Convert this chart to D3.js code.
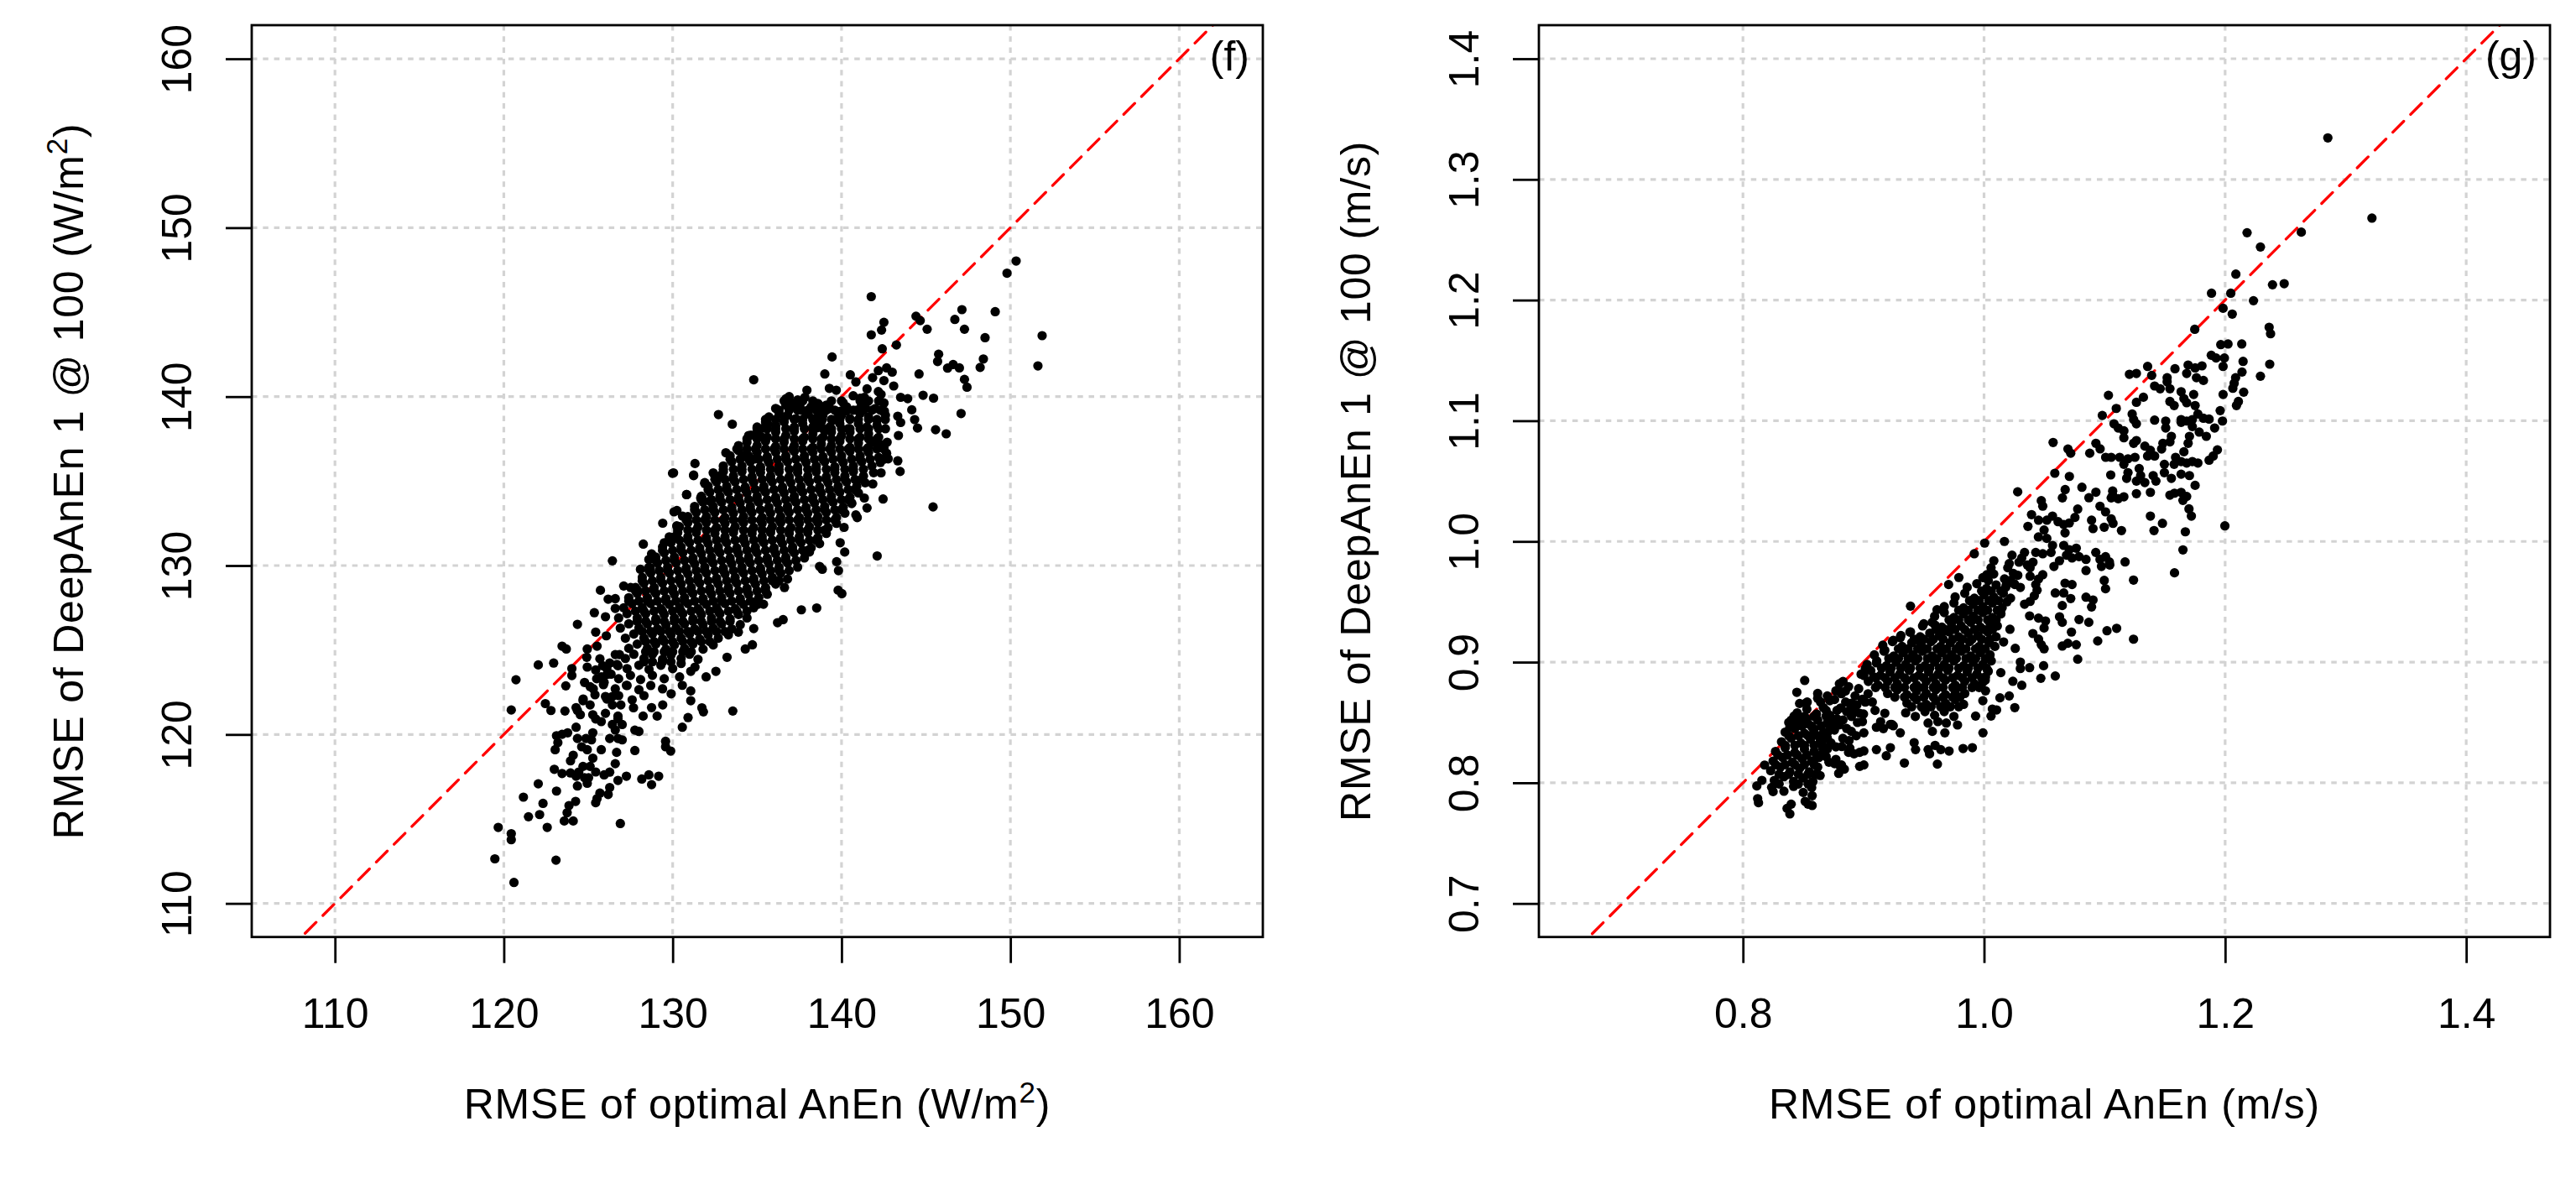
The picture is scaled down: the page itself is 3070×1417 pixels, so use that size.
<!DOCTYPE html>
<html>
<head>
<meta charset="utf-8">
<script src="https://cdn.jsdelivr.net/npm/d3@7"></script>
<style>
  body { margin: 0; background: #fff; }
  svg { display: block; }
  text { font-family: "Liberation Sans", Arial, Helvetica, sans-serif; fill: #000; }
</style>
</head>
<body>
<svg id="chart" width="3070" height="1417"></svg>
<script>
// Axis limits and ticks
const solarXLim = [105.07, 164.95];
const solarYLim = [108.01, 161.99];
const solarTicks = [110, 120, 130, 140, 150, 160];
const windXLim = [0.6307, 1.4695];
const windYLim = [0.6722, 1.4278];
const windXTicks = [0.8, 1.0, 1.2, 1.4];
const windYTicks = [0.7, 0.8, 0.9, 1.0, 1.1, 1.2, 1.3, 1.4];

const solarXTitle = "RMSE of optimal AnEn (W/m";
const solarYTitle = "RMSE of DeepAnEn 1 @ 100 (W/m";
const windXTitle = "RMSE of optimal AnEn (m/s)";
const windYTitle = "RMSE of DeepAnEn 1 @ 100 (m/s)";

// Panel (f): scattered points [optimal AnEn, DeepAnEn]
const solarScatter = [
  [150.34,148.03],[149.80,147.31],[149.10,145.03],[151.88,143.61],[151.63,141.82],[147.13,145.15],[146.71,144.57],[147.28,143.99],
  [148.50,143.49],[148.40,142.23],[148.21,141.73],[145.75,142.51],[145.69,142.08],[146.28,141.69],[146.61,141.90],[146.98,141.70],
  [147.28,141.02],[147.43,140.56],[147.08,139.00],[145.45,139.91],[144.83,140.08],[145.57,138.04],[146.20,137.80],[145.42,133.47],
  [144.59,141.34],[145.07,143.99],[144.41,144.76],[144.66,144.50],[143.25,143.06],[142.41,142.83],[142.51,144.40],[142.37,143.94],
  [141.76,143.66],[141.76,145.92],[139.44,142.35],[139.01,141.34],[134.80,141.00],[132.71,138.94],[133.53,138.37],[142.11,130.57],
  [139.92,131.35],[140.19,130.80],[139.71,130.23],[139.82,129.70],[139.80,128.54],[140.02,128.34],[137.62,127.38],[138.53,127.49],
  [136.21,126.62],[136.54,126.80],[134.80,126.27],[136.62,128.70],[138.70,129.95],[138.86,129.78],[142.46,133.94],[141.51,133.41],
  [140.93,132.84],[143.33,136.20],[143.47,135.57],[143.37,137.70],[143.33,138.84],[143.50,138.47],[144.16,139.22],[144.33,138.64],
  [144.50,138.14],[143.50,139.96],[143.92,139.88],[142.51,139.63],[142.54,139.14],[142.59,138.64],[142.67,136.65],[142.51,136.30],
  [141.84,137.30],[142.34,137.15],[140.60,133.67],[140.15,132.26],[140.52,141.29],[140.85,140.87],[142.18,141.54],[142.67,141.70],
  [143.00,141.45],[141.84,141.12],[142.51,140.95],[141.51,140.46],[143.09,140.63],
  [125.72,128.54],[126.18,128.01],[126.60,128.04],[126.60,127.46],[125.36,127.21],[126.02,126.97],[124.36,126.52],[125.44,126.06],
  [126.07,125.84],[123.45,125.23],[123.70,125.06],[124.94,125.06],[125.52,125.23],[124.91,124.57],[125.69,124.48],[125.85,124.07],
  [126.27,124.23],[126.60,124.73],[126.85,124.73],[126.76,124.07],[126.35,123.57],[122.04,124.12],[122.95,124.23],[120.72,123.24],
  [124.03,123.90],[124.03,123.49],[123.67,122.88],[124.78,123.08],[125.11,122.83],[124.94,123.99],[125.44,123.82],[125.77,123.41],
  [125.94,123.08],[126.02,122.25],[126.43,122.25],[126.43,121.75],[126.93,121.75],[126.76,121.09],[126.02,121.25],[127.26,122.91],
  [122.46,121.83],[122.79,121.42],[120.44,121.45],[123.62,121.39],[124.36,121.42],[124.53,121.17],[124.28,121.59],[124.69,122.00],
  [125.11,121.75],[125.27,121.17],[125.44,120.92],[125.77,120.76],[127.68,121.58],[128.25,121.09],[129.08,121.09],[128.75,121.59],
  [129.41,121.75],[129.91,122.41],
  [130.41,123.41],[131.07,123.74],[131.32,123.99],[130.57,122.91],[131.07,122.58],[132.56,123.74],[131.98,123.41],[131.73,121.58],
  [131.82,121.34],[131.07,122.00],[130.91,121.00],[130.57,120.43],[133.56,121.39],[133.22,124.57],[134.30,125.06],[134.72,125.31],
  [133.89,126.06],[135.05,127.71],[135.38,127.71],
  [130.08,133.18],[130.82,134.20],[129.41,132.51],[130.24,132.35],[129.50,131.35],[130.08,131.69],[128.26,131.27],[126.43,130.28],
  [128.09,129.78],[128.59,130.36],[128.75,130.69],[128.67,129.86],[129.99,135.46],[131.24,135.36],[131.90,134.91],[131.73,134.00],
  [132.23,133.84],[127.10,128.79],[127.51,128.70],[127.92,128.54],
  [134.64,137.72],[135.38,138.14],[135.63,138.39],[135.22,137.64],[133.15,136.68],[134.14,136.52],[134.89,136.32],[131.32,136.04],
  [131.24,135.32],[131.90,134.86],[130.83,134.20],[131.66,134.00],[132.24,133.78],[132.40,135.49],[132.82,135.32],[130.05,135.49],
  [130.25,133.26],[130.58,132.93],
  [140.85,133.00],[141.35,134.00],[141.85,134.83],[142.34,135.49],[142.76,136.32],[142.51,136.98],[142.01,137.31],
  [139.28,140.49],[139.69,140.38],[137.95,140.38],[137.83,139.96],[136.71,139.88],[137.04,139.63],[137.54,139.38],[140.69,140.05],
  [140.10,139.63],[139.94,139.14],[140.27,139.14],[138.70,139.47],[138.36,138.56],[138.03,138.97],[138.86,138.64],[138.53,138.15],
  [139.03,137.98],[142.18,140.30],[142.34,140.13],[141.35,139.96],[141.18,139.47],
  [123.04,119.10],[123.20,119.52],[123.12,119.93],[123.45,120.01],[123.78,120.10],[124.28,120.43],[124.36,119.76],[124.61,119.27],
  [124.94,119.10],[124.86,119.76],[125.27,120.10],[125.19,119.68],[125.77,119.10],[126.27,119.76],[126.76,119.76],[127.01,119.68],
  [126.60,120.26],[127.01,120.59],[126.76,120.92],[126.43,120.59],[123.95,118.44],[124.11,118.77],[124.44,117.78],[124.69,118.11],
  [125.11,118.11],[125.27,118.60],[125.44,117.78],[125.02,117.44],[124.78,117.44],[124.36,116.95],[124.94,117.11],[124.28,117.53],
  [125.94,117.61],[126.27,117.77],[126.60,118.27],[126.76,117.28],[127.26,117.53],[126.68,118.94],[122.99,117.94],[123.45,117.69],
  [123.95,117.72],[128.17,117.36],[128.59,117.61],[128.75,117.03],[129.17,117.53],[127.76,119.05],[127.76,120.26],[128.00,120.18],
  [129.58,119.60],[129.58,119.27],[129.88,119.02],[125.44,115.96],[125.52,116.20],[125.69,116.53],[126.18,116.45],[126.27,116.86],
  [123.58,114.88],[124.11,114.88],[123.75,115.37],[123.86,115.79],[124.25,116.04],[126.90,114.73],[123.12,116.65],[122.04,117.08],
  [121.16,116.29],[122.32,115.92],[122.12,115.26],[121.46,115.13],[122.57,114.50],[119.67,114.50],[120.44,114.13],[120.44,113.77],
  [123.09,112.56],[119.47,112.64],[120.60,111.24]
];

// Panel (f): dense core of the cloud
const solarCore = [
  [136.9,140.0],[137.4,139.8],[138.6,139.6],[139.1,139.5],[141.1,139.9],
  [136.1,139.3],[136.7,139.5],[137.2,139.4],[137.6,139.2],[138.2,139.4],[138.7,139.1],[139.3,139.3],[139.8,139.0],[140.3,139.4],[140.9,139.2],[141.4,139.5],[142.0,139.3],[142.5,139.6],[142.5,139.1],
  [135.7,138.8],[136.3,139.0],[136.8,138.9],[137.3,138.7],[137.9,139.0],[138.4,138.7],[138.9,138.9],[139.5,138.6],[140.0,138.9],[140.5,138.7],[141.1,139.0],[141.6,138.8],[142.1,138.6],[142.6,138.9],
  [135.0,138.2],[135.5,138.5],[136.1,138.3],[136.6,138.5],[137.2,138.2],[137.7,138.4],[138.3,138.2],[138.8,138.5],[139.3,138.2],[139.9,138.4],[140.4,138.1],[141.0,138.4],[141.5,138.2],[142.1,138.3],[142.6,138.1],
  [134.5,137.7],[135.0,137.9],[135.6,137.6],[136.1,137.9],[136.7,137.7],[137.2,137.95],[137.8,137.6],[138.3,137.8],[138.9,137.6],[139.4,137.9],[140.0,137.7],[140.5,137.9],[141.1,137.6],[141.6,137.8],[142.2,137.6],
  [133.9,137.1],[134.4,137.3],[135.0,137.1],[135.5,137.35],[136.1,137.05],[136.6,137.3],[137.2,137.1],[137.7,137.35],[138.3,137.0],[138.8,137.2],[139.4,137.1],[139.9,137.35],[140.5,137.0],[141.0,137.25],[141.6,137.0],[142.1,137.2],[142.7,137.3],
  [133.4,136.5],[133.9,136.8],[134.5,136.5],[135.0,136.7],[135.6,136.45],[136.1,136.7],[136.7,136.5],[137.2,136.75],[137.8,136.5],[138.3,136.7],[138.9,136.45],[139.4,136.7],[140.0,136.5],[140.5,136.75],[141.1,136.5],[141.6,136.7],[142.2,136.4],[142.5,136.9],
  [133.0,135.9],[133.5,136.15],[134.1,135.9],[134.6,136.15],[135.2,135.85],[135.7,136.1],[136.3,135.9],[136.8,136.15],[137.4,135.85],[137.9,136.1],[138.5,135.9],[139.0,136.15],[139.6,135.85],[140.1,136.1],[140.7,135.9],[141.2,136.15],[141.8,135.9],[142.3,136.1],
  [132.5,135.3],[133.0,135.55],[133.6,135.3],[134.1,135.55],[134.7,135.25],[135.2,135.5],[135.8,135.3],[136.3,135.55],[136.9,135.25],[137.4,135.5],[138.0,135.3],[138.5,135.55],[139.1,135.25],[139.6,135.5],[140.2,135.3],[140.7,135.55],[141.3,135.3],[141.9,135.5],
  [132.1,134.7],[132.6,134.95],[133.2,134.7],[133.7,134.95],[134.3,134.65],[134.8,134.9],[135.4,134.7],[135.9,134.95],[136.5,134.65],[137.0,134.9],[137.6,134.7],[138.1,134.95],[138.7,134.65],[139.2,134.9],[139.8,134.7],[140.3,134.95],[140.9,134.7],[141.4,134.9],
  [131.7,134.1],[132.2,134.35],[132.8,134.1],[133.3,134.35],[133.9,134.05],[134.4,134.3],[135.0,134.1],[135.5,134.35],[136.1,134.05],[136.6,134.3],[137.2,134.1],[137.7,134.35],[138.3,134.05],[138.8,134.3],[139.4,134.1],[139.9,134.35],[140.5,134.05],[141.0,134.3],
  [131.3,133.5],[131.8,133.75],[132.4,133.5],[132.9,133.75],[133.5,133.45],[134.0,133.7],[134.6,133.5],[135.1,133.75],[135.7,133.45],[136.2,133.7],[136.8,133.5],[137.3,133.75],[137.9,133.45],[138.4,133.7],[139.0,133.5],[139.5,133.75],[140.1,133.45],[140.6,133.7],
  [130.9,132.9],[131.4,133.15],[132.0,132.9],[132.5,133.15],[133.1,132.85],[133.6,133.1],[134.2,132.9],[134.7,133.15],[135.3,132.85],[135.8,133.1],[136.4,132.9],[136.9,133.15],[137.5,132.85],[138.0,133.1],[138.6,132.9],[139.1,133.15],[139.7,132.85],[140.2,133.1],
  [130.4,132.3],[130.9,132.55],[131.5,132.3],[132.0,132.55],[132.6,132.25],[133.1,132.5],[133.7,132.3],[134.2,132.55],[134.8,132.25],[135.3,132.5],[135.9,132.3],[136.4,132.55],[137.0,132.25],[137.5,132.5],[138.1,132.3],[138.6,132.55],[139.2,132.25],[139.7,132.5],
  [129.8,131.7],[130.3,131.95],[130.9,131.7],[131.4,131.95],[132.0,131.65],[132.5,131.9],[133.1,131.7],[133.6,131.95],[134.2,131.65],[134.7,131.9],[135.3,131.7],[135.8,131.95],[136.4,131.65],[136.9,131.9],[137.5,131.7],[138.0,131.95],[138.6,131.65],[139.1,131.9],
  [129.4,131.1],[129.9,131.35],[130.5,131.1],[131.0,131.35],[131.6,131.05],[132.1,131.3],[132.7,131.1],[133.2,131.35],[133.8,131.05],[134.3,131.3],[134.9,131.1],[135.4,131.35],[136.0,131.05],[136.5,131.3],[137.1,131.1],[137.6,131.35],[138.2,131.05],[138.7,131.3],
  [129.0,130.5],[129.5,130.75],[130.1,130.5],[130.6,130.75],[131.2,130.45],[131.7,130.7],[132.3,130.5],[132.8,130.75],[133.4,130.45],[133.9,130.7],[134.5,130.5],[135.0,130.75],[135.6,130.45],[136.1,130.7],[136.7,130.5],[137.2,130.75],[137.8,130.45],[138.1,130.8],
  [128.6,129.9],[129.1,130.15],[129.7,129.9],[130.2,130.15],[130.8,129.85],[131.3,130.1],[131.9,129.9],[132.4,130.15],[133.0,129.85],[133.5,130.1],[134.1,129.9],[134.6,130.15],[135.2,129.85],[135.7,130.1],[136.3,129.9],[136.8,130.15],[137.4,129.9],
  [128.2,129.3],[128.7,129.55],[129.3,129.3],[129.8,129.55],[130.4,129.25],[130.9,129.5],[131.5,129.3],[132.0,129.55],[132.6,129.25],[133.1,129.5],[133.7,129.3],[134.2,129.55],[134.8,129.25],[135.3,129.5],[135.9,129.3],[136.4,129.55],[136.8,129.2],
  [127.8,128.7],[128.3,128.95],[128.9,128.7],[129.4,128.95],[130.0,128.65],[130.5,128.9],[131.1,128.7],[131.6,128.95],[132.2,128.65],[132.7,128.9],[133.3,128.7],[133.8,128.95],[134.4,128.65],[134.9,128.9],[135.5,128.7],[136.1,128.9],
  [127.4,128.1],[127.9,128.35],[128.5,128.1],[129.0,128.35],[129.6,128.05],[130.1,128.3],[130.7,128.1],[131.2,128.35],[131.8,128.05],[132.3,128.3],[132.9,128.1],[133.4,128.35],[134.0,128.05],[134.5,128.3],[135.1,128.1],[135.6,128.3],
  [127.1,127.5],[127.6,127.75],[128.2,127.5],[128.7,127.75],[129.3,127.45],[129.8,127.7],[130.4,127.5],[130.9,127.75],[131.5,127.45],[132.0,127.7],[132.6,127.5],[133.1,127.75],[133.7,127.45],[134.2,127.7],[134.8,127.5],
  [126.8,126.9],[127.3,127.15],[127.9,126.9],[128.4,127.15],[129.0,126.85],[129.5,127.1],[130.1,126.9],[130.6,127.15],[131.2,126.85],[131.7,127.1],[132.3,126.9],[132.8,127.15],[133.4,126.85],[133.9,127.1],[134.4,126.9],
  [126.9,126.3],[127.4,126.55],[128.0,126.3],[128.5,126.55],[129.1,126.25],[129.6,126.5],[130.2,126.3],[130.7,126.55],[131.3,126.25],[131.8,126.5],[132.4,126.3],[132.9,126.55],[133.5,126.25],[134.0,126.5],
  [127.2,125.7],[127.7,125.95],[128.3,125.7],[128.8,125.95],[129.4,125.65],[129.9,125.9],[130.5,125.7],[131.0,125.95],[131.6,125.65],[132.1,125.9],[132.7,125.7],[133.3,125.9],
  [127.4,125.1],[127.9,125.35],[128.5,125.1],[129.0,125.35],[129.6,125.05],[130.1,125.3],[130.7,125.1],[131.2,125.35],[131.8,125.05],[132.4,125.3],
  [127.2,124.5],[127.7,124.75],[128.3,124.5],[128.8,124.75],[129.4,124.45],[129.9,124.7],[130.5,124.5],[131.0,124.75],[131.5,124.45],
  [126.1,123.9],[126.7,124.15],[127.3,123.9],[128.0,124.1],[128.6,123.85],[129.3,124.1],[130.0,123.9],[130.5,124.2],
  [125.5,123.3],[126.1,123.55],[126.8,123.3],[127.5,123.5],[128.1,123.25],[128.8,123.5],[129.5,123.3],
  [125.3,122.7],[125.9,122.95],[126.6,122.7],[127.3,122.9],[128.0,122.65],[128.7,122.9],[129.4,122.7],
  [124.7,122.1],[125.4,122.35],[126.1,122.1],[126.8,122.3],[127.6,122.05],[128.3,122.3]
];

// Panel (f): points between the core rows, as [DeepAnEn, [optimal AnEn ...]]
const solarFill = [
  [139.75,[136.6,137.7,138.3,139.4,140.0,141.1,141.6,142.2]],
  [139.2,[136.3,136.9,137.4,138.0,138.5,139.1,139.6,140.2,140.7,141.3,141.8,142.3]],
  [138.65,[135.5,136.1,136.6,137.2,137.7,138.3,138.8,139.4,139.9,140.5,141.0,141.6,142.1]],
  [138.1,[135.0,135.6,136.1,136.7,137.2,137.8,138.3,138.9,139.4,140.0,140.5,141.1,141.6,142.2]],
  [137.5,[134.4,135.0,135.5,136.1,136.6,137.2,137.7,138.3,138.8,139.4,139.9,140.5,141.0,141.6,142.1]],
  [136.9,[133.8,134.4,134.9,135.5,136.0,136.6,137.1,137.7,138.2,138.8,139.3,139.9,140.4,141.0,141.5,142.1]],
  [136.3,[133.4,134.0,134.5,135.1,135.6,136.2,136.7,137.3,137.8,138.4,138.9,139.5,140.0,140.6,141.1,141.7]],
  [135.7,[133.0,133.6,134.1,134.7,135.2,135.8,136.3,136.9,137.4,138.0,138.5,139.1,139.6,140.2,140.7,141.3]],
  [135.1,[132.5,133.1,133.6,134.2,134.7,135.3,135.8,136.4,136.9,137.5,138.0,138.6,139.1,139.7,140.2,140.8,141.2]],
  [134.5,[132.1,132.7,133.2,133.8,134.3,134.9,135.4,136.0,136.5,137.1,137.6,138.2,138.7,139.3,139.8,140.4,140.8]],
  [133.9,[131.7,132.3,132.8,133.4,133.9,134.5,135.0,135.6,136.1,136.7,137.2,137.8,138.3,138.9,139.4,140.0,140.4]],
  [133.3,[131.3,131.9,132.4,133.0,133.5,134.1,134.6,135.2,135.7,136.3,136.8,137.4,137.9,138.5,139.0,139.6,140.0]],
  [132.7,[130.8,131.4,131.9,132.5,133.0,133.6,134.1,134.7,135.2,135.8,136.3,136.9,137.4,138.0,138.5,139.1,139.6]],
  [132.1,[130.3,130.9,131.4,132.0,132.5,133.1,133.6,134.2,134.7,135.3,135.8,136.4,136.9,137.5,138.0,138.6,139.0]],
  [131.5,[129.8,130.4,130.9,131.5,132.0,132.6,133.1,133.7,134.2,134.8,135.3,135.9,136.4,137.0,137.5,138.1,138.5]],
  [130.9,[129.4,130.0,130.5,131.1,131.6,132.2,132.7,133.3,133.8,134.4,134.9,135.5,136.0,136.6,137.1,137.7,138.0]],
  [130.3,[129.0,129.6,130.1,130.7,131.2,131.8,132.3,132.9,133.4,134.0,134.5,135.1,135.6,136.2,136.7,137.3]],
  [129.7,[128.6,129.2,129.7,130.3,130.8,131.4,131.9,132.5,133.0,133.6,134.1,134.7,135.2,135.8,136.3,136.9]],
  [129.1,[128.2,128.8,129.3,129.9,130.4,131.0,131.5,132.1,132.6,133.2,133.7,134.3,134.8,135.4,135.9,136.3]],
  [128.5,[127.8,128.4,128.9,129.5,130.0,130.6,131.1,131.7,132.2,132.8,133.3,133.9,134.4,135.0,135.5]],
  [127.9,[127.4,128.0,128.5,129.1,129.6,130.2,130.7,131.3,131.8,132.4,132.9,133.5,134.0,134.6,135.0]],
  [127.3,[127.8,128.3,128.9,129.4,130.0,130.5,131.1,131.6,132.2,132.7,133.3,133.8,134.4]],
  [126.7,[127.9,128.4,129.0,129.5,130.1,130.6,131.2,131.7,132.3,132.8,133.4]],
  [126.1,[128.2,128.7,129.3,129.8,130.4,130.9,131.5,132.0,132.6,133.1]],
  [125.5,[128.4,128.9,129.5,130.0,130.6,131.1,131.7,132.2]],
  [124.9,[128.4,128.9,129.5,130.0,130.6,131.1]],
  [124.3,[128.3,128.8,129.4,129.9]]
];

// Panel (g): scattered points
const windScatter = [
  [1.2852,1.3344],[1.3218,1.2679],[1.2632,1.2563],[1.2182,1.2558],[1.2293,1.2440],[1.2089,1.2215],[1.2393,1.2127],[1.2490,1.2136],
  [1.1887,1.2057],[1.2047,1.2057],[1.2235,1.1995],[1.1983,1.1932],[1.2059,1.1884],[1.1748,1.1758],[1.2365,1.1775],[1.2377,1.1721],
  [1.1964,1.1631],[1.2024,1.1636],[1.2138,1.1636],[1.1885,1.1543],[1.1925,1.1520],[1.1994,1.1520],[1.1983,1.1450],[1.2149,1.1492],
  [1.2370,1.1469],[1.2140,1.1404],[1.2087,1.1357],[1.2075,1.1311],[1.2064,1.1269],[1.2293,1.1369],[1.2154,1.1237],[1.2110,1.1160],
  [1.2094,1.1126],[1.1983,1.1218],[1.1959,1.1084],[1.1978,1.0998],[1.1913,1.0940],[1.1844,1.0871],[1.1936,1.0759],[1.1901,1.0708],
  [1.1867,1.0673],
  [1.1774,1.1056],[1.1820,1.1021],[1.1867,1.1014],[1.1728,1.1010],[1.1681,1.0998],[1.1635,1.0987],[1.1728,1.0952],[1.1785,1.0906],
  [1.1704,1.0871],[1.1693,1.0813],[1.1658,1.0743],[1.1635,1.1010],[1.1751,1.1126],[1.1739,1.1218],[1.1681,1.1149],[1.1635,1.1241],
  [1.1658,1.1184],[1.1577,1.1126],[1.1542,1.1160],[1.1820,1.1334],[1.1762,1.1357],[1.1693,1.1462],[1.1681,1.1392],[1.1808,1.1455],
  [1.1751,1.1438],[1.1584,1.1431],[1.1519,1.1357],[1.1519,1.1323],[1.1415,1.1288],[1.1461,1.1265],[1.1542,1.1265],
  [1.1357,1.1450],[1.1391,1.1376],[1.1206,1.1385],[1.1264,1.1392],[1.1032,1.1211],[1.1097,1.1102],[1.0981,1.1044],[1.1264,1.1153],
  [1.1322,1.1195],[1.1229,1.1056],[1.1241,1.1010],[1.1264,1.0975],[1.1415,1.1005],[1.1507,1.0998],[1.1507,1.0940],[1.1554,1.0871],
  [1.1542,1.0825],[1.1484,1.0813],[1.1473,1.0766],[1.1078,1.0975],[1.1113,1.0940],[1.1160,1.0917],[1.1160,1.0859],
  [1.1241,1.0813],[1.1264,1.0836],[1.1334,1.0790],[1.1380,1.0755],[1.1415,1.0708],[1.1357,1.0708],
  [1.0573,1.0820],[1.0696,1.0766],[1.0719,1.0731],[1.0877,1.0731],[1.0928,1.0813],[1.0963,1.0767],
  [1.1009,1.0697],[1.1055,1.0697],[1.1125,1.0697],[1.1160,1.0639],[1.1194,1.0685],[1.1252,1.0697],
  [1.0587,1.0565],[1.0708,1.0539],[1.1051,1.0551],
  [1.1194,1.0570],[1.1287,1.0604],[1.1299,1.0546],[1.1183,1.0523],[1.1264,1.0500],[1.1334,1.0488],[1.1403,1.0546],[1.1426,1.0500],
  [1.1496,1.0639],[1.1496,1.0570],[1.1554,1.0523],[1.1589,1.0697],[1.1577,1.0639],[1.1635,1.0662],[1.1681,1.0650],[1.1728,1.0662],
  [1.1774,1.0650],[1.1635,1.0557],[1.1704,1.0546],[1.1751,1.0465],
  [1.0812,1.0449],[1.0673,1.0430],[1.0650,1.0361],[1.0279,1.0411],[1.0870,1.0362],[1.0928,1.0408],[1.1067,1.0418],[1.1067,1.0383],
  [1.1113,1.0354],[1.1264,1.0396],[1.1380,1.0407],[1.1542,1.0384],[1.1635,1.0407],[1.1681,1.0373],
  [1.0475,1.0338],[1.0487,1.0292],[1.0777,1.0268],[1.0754,1.0199],[1.0962,1.0292],[1.1008,1.0245],[1.1055,1.0361],[1.1055,1.0187],
  [1.0394,1.0222],[1.0452,1.0176],[1.0521,1.0176],[1.0568,1.0210],[1.0614,1.0164],[1.0661,1.0141],[1.0707,1.0153],
  [1.0364,1.0125],[1.0892,1.0176],[1.0904,1.0106],[1.0997,1.0118],[1.0672,1.0071],
  [1.0498,1.0095],[1.0451,1.0037],[1.0521,1.0025],[1.0568,0.9967],[1.0556,0.9909],
  [1.0169,1.0000],[1.0005,0.9986],[0.9919,0.9898],[1.0429,0.9909],[1.0487,0.9898],
  [1.0661,0.9967],[1.0707,0.9932],[1.0765,0.9944],[1.0684,0.9886],[1.0626,0.9840],[1.0580,0.9793],[1.0730,0.9863],[1.0788,0.9874],
  [1.0846,0.9851],[1.0927,0.9909],[1.0962,0.9851],[1.1008,0.9874],[1.0974,0.9793],[1.1043,0.9805],
  [1.0336,0.9909],[1.0313,0.9863],[1.0290,0.9828],[1.0232,0.9886],[1.0209,0.9816],[1.0359,0.9805],[1.0406,0.9828],[1.0382,0.9782],
  [1.0081,0.9840],[1.0058,0.9782],[1.0023,0.9724],[1.0000,0.9701],[1.0035,0.9677],
  [0.9791,0.9701],[0.9706,0.9643],[1.0846,0.9759],
  [1.0197,0.9782],[1.0243,0.9735],[1.0220,0.9677],[1.0255,0.9643],[1.0301,0.9619],[1.0185,0.9643],
  [1.0382,0.9712],[1.0452,0.9689],[1.0487,0.9724],[1.0429,0.9643],[1.0440,0.9596],[1.0417,0.9550],[1.0382,0.9503],[1.0336,0.9480],
  [1.0591,0.9573],[1.0661,0.9573],[1.0672,0.9654],[1.0730,0.9643],[1.0649,0.9469],[1.0719,0.9527],
  [1.0846,0.9538],[1.0904,0.9515],[1.0892,0.9457],[1.0997,0.9677],[1.1008,0.9608],[1.1020,0.9260],[1.0943,0.9175],
  [1.0378,0.9383],[1.0452,0.9365],[1.0510,0.9341],[1.0498,0.9283],[1.0626,0.9376],[1.0649,0.9330],[1.0788,0.9353],[1.0869,0.9330],
  [1.0725,0.9249],[1.0405,0.9237],[1.0452,0.9191],[1.0475,0.9144],[1.0498,0.9110],[1.0649,0.9133],[1.0695,0.9156],[1.0765,0.9144],
  [1.0777,0.9024],[1.0215,0.9272],[1.0162,0.9167],[1.0259,0.9114],
  [1.1998,1.0129],[1.1580,0.9740],[1.1650,0.9930],[1.1670,1.0080],[1.1240,0.9680],[1.1170,0.9830],[1.1040,0.9830],[1.1140,1.0090],
  [1.1070,1.0150],[1.1160,1.0370],[1.1410,1.0090],[1.1480,1.0150],[1.1380,1.0210],[1.1700,1.0270],[1.1720,1.0210],[1.1580,1.0400],
  [1.1650,1.0340],[1.1100,0.9280],[1.1240,0.9190],
  [1.0301,0.9000],[1.0301,0.8947],[1.0378,0.8954],[1.0494,0.8970],[1.0471,0.8866],[1.0591,0.8885],[1.0239,0.8841],[1.0313,0.8808],
  [1.0139,0.8913],[1.0209,0.8720],[1.0132,0.8704],[1.0255,0.8623],[1.0069,0.8611],[1.0104,0.8604],[1.0058,0.8553],
  [0.9990,0.8680],[1.0012,0.8762],[0.9988,0.8831],[1.0012,0.8878],[1.0035,0.8924],
  [0.9930,0.8553],[0.9991,0.8414],[0.9780,0.8479],[0.9903,0.8291],[0.9826,0.8284],
  [0.9675,0.8414],[0.9571,0.8426],[0.9536,0.8495],[0.9617,0.8507],[0.9687,0.8495],
  [0.9710,0.8263],[0.9641,0.8275],[0.9594,0.8310],[0.9536,0.8275],[0.9548,0.8240],[0.9420,0.8333],[0.9432,0.8275],[0.9339,0.8164],
  [0.9613,0.8155],[0.9305,0.8414],[0.9223,0.8484],[0.9247,0.8472],[0.9107,0.8275],[0.9223,0.8291],[0.9189,0.8224],
  [0.8968,0.8136],[0.9003,0.8148],[0.8887,0.8287],[0.8922,0.8240],[0.8968,0.8252],[0.9003,0.8264],[0.8876,0.8252],
  [0.8794,0.8078],[0.8806,0.8136],[0.8760,0.8159],[0.8690,0.8217],[0.8667,0.8264],[0.8713,0.8171],[0.8771,0.8194],[0.8817,0.8148],
  [0.8841,0.8113],
  [0.8122,0.7869],[0.8129,0.7835],[0.8115,0.7974],[0.8157,0.8020],[0.8238,0.7962],[0.8250,0.7927],
  [0.8400,0.7823],[0.8389,0.7742],[0.8366,0.7788],[0.8516,0.7846],[0.8574,0.7893],[0.8574,0.7812],[0.8540,0.7823],
  [0.8180,0.8147],[0.8447,0.8750],[0.8512,0.8848],[0.8533,0.8669],[0.8470,0.8657],
  [0.8424,0.8553],[0.8400,0.8519],[0.8389,0.8461],[0.8424,0.8472],[0.8482,0.8495],[0.8528,0.8530],[0.8574,0.8461],[0.8563,0.8391],
  [0.8644,0.8669],[0.8667,0.8623],[0.8690,0.8553],[0.8713,0.8484],[0.8771,0.8762],[0.8817,0.8738],[0.8876,0.8797],[0.8852,0.8669],
  [0.8899,0.8634],[0.8922,0.8588],[0.8968,0.8576],[0.8991,0.8507],[0.9003,0.8414],[0.8899,0.8426],[0.8829,0.8368],[0.8771,0.8298],
  [0.8759,0.8437],[0.8701,0.8414],[0.8678,0.8368],
  [0.8720,0.8560],[0.8780,0.8600],[0.8830,0.8520],[0.8860,0.8450],[0.8800,0.8480],[0.8740,0.8500],[0.8900,0.8550],[0.8950,0.8500],
  [0.8940,0.8390],[0.8880,0.8350],[0.8820,0.8300],[0.8730,0.8330],[0.8700,0.8280],[0.8620,0.8700],[0.8700,0.8720],[0.8760,0.8690],
  [0.8810,0.8620],[0.8930,0.8720],[0.8960,0.8780],[0.8850,0.8760],[0.8830,0.8840],
  [0.9038,0.8738],[0.9015,0.8669],[0.9073,0.8669],[0.9096,0.8600],[0.9177,0.8576],[0.9142,0.8507],[0.9107,0.8460],[0.9165,0.8449],
  [0.9235,0.8484],[0.8990,0.8692],[0.8945,0.8646],
  [0.9084,0.8878],[0.9015,0.8947],[0.9003,0.8889],[0.9107,0.8994],[0.9177,0.9098],
  [0.9247,0.9180],[0.9305,0.9202],[0.9385,0.9248],[0.9467,0.9167],
  [0.9500,0.9318],[0.9594,0.9306],[0.9668,0.9260],[0.9390,0.9464],[0.9610,0.9434]
];

// Panel (g): dense core of the cloud
const windCore = [
  [0.834,0.793],[0.842,0.797],[0.850,0.792],[0.857,0.796],
  [0.826,0.802],[0.834,0.805],[0.842,0.801],[0.850,0.804],[0.858,0.801],[0.864,0.806],
  [0.823,0.810],[0.831,0.813],[0.839,0.809],[0.847,0.812],[0.855,0.809],[0.862,0.813],
  [0.825,0.818],[0.833,0.821],[0.841,0.817],[0.849,0.820],[0.857,0.818],[0.863,0.821],
  [0.827,0.826],[0.835,0.829],[0.843,0.825],[0.851,0.828],[0.859,0.826],[0.866,0.829],
  [0.832,0.834],[0.840,0.837],[0.848,0.833],[0.856,0.836],[0.864,0.834],[0.870,0.837],
  [0.835,0.842],[0.843,0.845],[0.851,0.841],[0.859,0.844],[0.867,0.842],[0.874,0.845],
  [0.838,0.850],[0.846,0.853],[0.854,0.849],[0.862,0.852],[0.870,0.850],[0.878,0.853],
  [0.845,0.858],[0.853,0.861],[0.861,0.857],[0.869,0.860],[0.886,0.859],[0.900,0.857],
  [0.935,0.858],[0.943,0.855],[0.951,0.859],[0.959,0.856],[0.967,0.859],[0.975,0.855],
  [0.852,0.866],[0.872,0.868],[0.890,0.866],[0.936,0.866],[0.944,0.869],[0.952,0.865],[0.960,0.868],[0.968,0.866],[0.976,0.869],[0.983,0.865],
  [0.862,0.874],[0.880,0.876],[0.920,0.874],[0.928,0.877],[0.936,0.873],[0.944,0.876],[0.952,0.874],[0.960,0.877],[0.968,0.873],[0.976,0.876],[0.984,0.874],
  [0.880,0.882],[0.904,0.884],[0.912,0.881],[0.920,0.884],[0.928,0.882],[0.936,0.885],[0.944,0.881],[0.952,0.884],[0.960,0.882],[0.968,0.885],[0.976,0.881],[0.984,0.884],[0.992,0.882],[1.001,0.885],
  [0.898,0.890],[0.906,0.893],[0.914,0.889],[0.922,0.892],[0.930,0.890],[0.938,0.893],[0.946,0.889],[0.954,0.892],[0.962,0.890],[0.970,0.893],[0.978,0.889],[0.986,0.892],[0.994,0.890],[1.003,0.893],
  [0.903,0.898],[0.911,0.901],[0.919,0.897],[0.927,0.900],[0.935,0.898],[0.943,0.901],[0.951,0.897],[0.959,0.900],[0.967,0.898],[0.975,0.901],[0.983,0.897],[0.991,0.900],[0.999,0.898],[1.006,0.901],
  [0.909,0.906],[0.917,0.909],[0.925,0.905],[0.933,0.908],[0.941,0.906],[0.949,0.909],[0.957,0.905],[0.965,0.908],[0.973,0.906],[0.981,0.909],[0.989,0.905],[0.997,0.908],[1.005,0.906],
  [0.916,0.914],[0.924,0.917],[0.932,0.913],[0.940,0.916],[0.948,0.914],[0.956,0.917],[0.964,0.913],[0.972,0.916],[0.980,0.914],[0.988,0.917],[0.996,0.913],[1.004,0.916],[1.009,0.913],
  [0.931,0.922],[0.939,0.925],[0.947,0.921],[0.955,0.924],[0.963,0.922],[0.971,0.925],[0.979,0.921],[0.987,0.924],[0.995,0.922],[1.003,0.925],[1.010,0.921],
  [0.949,0.930],[0.957,0.933],[0.965,0.929],[0.973,0.932],[0.981,0.930],[0.989,0.933],[0.997,0.929],[1.005,0.932],[1.011,0.930],
  [0.959,0.938],[0.967,0.941],[0.975,0.937],[0.983,0.940],[0.991,0.938],[0.999,0.941],[1.007,0.937],[1.014,0.940],
  [0.967,0.946],[0.975,0.949],[0.983,0.945],[0.991,0.948],[0.999,0.946],[1.007,0.949],[1.015,0.945],[1.019,0.950],
  [0.976,0.954],[0.984,0.957],[0.992,0.953],[1.000,0.956],[1.008,0.954],[1.016,0.957],[1.022,0.953],
  [0.986,0.962],[0.994,0.965],[1.002,0.961],[1.010,0.964],[1.018,0.962],[1.025,0.965],
  [0.999,0.970],[1.008,0.973],[1.017,0.969],[1.028,0.972]
];

// Panel (g): points between the core rows, as [DeepAnEn, [optimal AnEn ...]]
const windFill = [
  [0.799,[0.830,0.846,0.854]],
  [0.807,[0.830,0.838,0.846,0.854,0.860]],
  [0.815,[0.827,0.835,0.843,0.851,0.859]],
  [0.823,[0.829,0.837,0.845,0.853,0.861]],
  [0.831,[0.835,0.843,0.851,0.859,0.866]],
  [0.839,[0.838,0.846,0.854,0.862]],
  [0.847,[0.841,0.849,0.857,0.865]],
  [0.855,[0.843,0.851,0.859]],
  [0.863,[0.940,0.948,0.956,0.964,0.972,0.979]],
  [0.871,[0.926,0.934,0.942,0.950,0.958,0.966,0.974,0.980]],
  [0.879,[0.910,0.918,0.926,0.934,0.942,0.950,0.958,0.966,0.974,0.982,0.990,0.996]],
  [0.887,[0.910,0.918,0.926,0.934,0.942,0.950,0.958,0.966,0.974,0.982,0.990,0.998]],
  [0.895,[0.915,0.923,0.931,0.939,0.947,0.955,0.963,0.971,0.979,0.987,0.995,1.002]],
  [0.903,[0.921,0.929,0.937,0.945,0.953,0.961,0.969,0.977,0.985,0.993,1.001]],
  [0.911,[0.929,0.937,0.945,0.953,0.961,0.969,0.977,0.985,0.993,1.001]],
  [0.919,[0.942,0.950,0.958,0.966,0.974,0.982,0.990,0.998,1.005]],
  [0.927,[0.960,0.968,0.976,0.984,0.992,1.000,1.007]],
  [0.935,[0.971,0.979,0.987,0.995,1.003,1.010]],
  [0.943,[0.979,0.987,0.995,1.003,1.011]],
  [0.951,[0.988,0.996,1.004,1.012]],
  [0.959,[0.998,1.006,1.014]]
];

// Layout
const svg = d3.select("#chart");
const plotTop = 30, plotBottom = 1116.7, plotW = 1205;
const fontSize = 50;

svg.append("rect").attr("width", 3070).attr("height", 1417).attr("fill", "#fff");

// turn fill rows into [x, y] pairs
function rowsToPoints(rows) {
  return rows.flatMap(([yv, xs]) => xs.map(xv => [xv, yv]));
}

function drawPanel(cfg) {
  const x = d3.scaleLinear().domain(cfg.xLim).range([cfg.left, cfg.left + plotW]);
  const y = d3.scaleLinear().domain(cfg.yLim).range([plotBottom, plotTop]);
  const g = svg.append("g");

  const clipId = "clip-" + cfg.id;
  svg.append("clipPath").attr("id", clipId)
    .append("rect")
    .attr("x", cfg.left).attr("y", plotTop)
    .attr("width", plotW).attr("height", plotBottom - plotTop);

  // grid (dotted light grey)
  const grid = g.append("g").attr("clip-path", `url(#${clipId})`)
    .attr("stroke", "#d3d3d3").attr("stroke-width", 3.2).attr("stroke-dasharray", "6.5,6.8");
  grid.selectAll("line.v").data(cfg.xTicks).join("line")
    .attr("class", "v")
    .attr("x1", d => x(d)).attr("x2", d => x(d))
    .attr("y1", plotTop).attr("y2", plotBottom);
  grid.selectAll("line.h").data(cfg.yTicks).join("line")
    .attr("class", "h")
    .attr("x1", cfg.left).attr("x2", cfg.left + plotW)
    .attr("y1", d => y(d)).attr("y2", d => y(d));

  // 1:1 reference line
  const lo = Math.min(cfg.xLim[0], cfg.yLim[0]);
  const hi = Math.max(cfg.xLim[1], cfg.yLim[1]);
  g.append("line")
    .attr("clip-path", `url(#${clipId})`)
    .attr("x1", x(lo)).attr("y1", y(lo))
    .attr("x2", x(hi)).attr("y2", y(hi))
    .attr("stroke", "#ff0000").attr("stroke-width", 3.3)
    .attr("stroke-linecap", "round")
    .attr("stroke-dasharray", "18.5,11.5");

  // points
  const pts = cfg.core.concat(rowsToPoints(cfg.fill), cfg.scatter);
  g.append("g").attr("clip-path", `url(#${clipId})`)
    .selectAll("circle").data(pts).join("circle")
    .attr("cx", d => x(d[0])).attr("cy", d => y(d[1]))
    .attr("r", 5.6).attr("fill", "#000");

  // box
  g.append("rect")
    .attr("x", cfg.left).attr("y", plotTop)
    .attr("width", plotW).attr("height", plotBottom - plotTop)
    .attr("fill", "none").attr("stroke", "#000").attr("stroke-width", 2.8);

  // x axis
  const xAxis = g.append("g")
    .attr("transform", `translate(0,${plotBottom})`)
    .call(d3.axisBottom(x).tickValues(cfg.xTicks).tickSize(31).tickFormat(cfg.fmt));
  xAxis.select(".domain").remove();
  xAxis.selectAll(".tick line").attr("stroke", "#000").attr("stroke-width", 2.8);
  xAxis.selectAll(".tick text")
    .attr("y", 1225 - plotBottom).attr("dy", null)
    .attr("font-size", fontSize).attr("fill", "#000");
  xAxis.attr("font-family", null).attr("font-size", fontSize);

  // y axis
  const yAxis = g.append("g")
    .attr("transform", `translate(${cfg.left},0)`)
    .call(d3.axisLeft(y).tickValues(cfg.yTicks).tickSize(31).tickFormat(cfg.fmt));
  yAxis.select(".domain").remove();
  yAxis.selectAll(".tick line").attr("stroke", "#000").attr("stroke-width", 2.8);
  yAxis.selectAll(".tick text")
    .attr("x", null).attr("dy", null).attr("y", null)
    .attr("transform", "translate(-72,0) rotate(-90)")
    .attr("text-anchor", "middle")
    .attr("font-size", fontSize).attr("fill", "#000");
  yAxis.attr("font-family", null).attr("font-size", fontSize);

  // axis titles
  const xt = g.append("text")
    .attr("x", cfg.left + plotW / 2).attr("y", 1333)
    .attr("text-anchor", "middle").attr("font-size", fontSize)
    .attr("letter-spacing", 0.8);
  addTitle(xt, cfg.xTitle, cfg.sup);

  const yt = g.append("text")
    .attr("transform", `translate(${cfg.left - 201},${(plotTop + plotBottom) / 2}) rotate(-90)`)
    .attr("text-anchor", "middle").attr("font-size", fontSize)
    .attr("letter-spacing", 0.8);
  addTitle(yt, cfg.yTitle, cfg.sup);

  // panel tag
  g.append("text")
    .attr("x", cfg.left + 1189).attr("y", 84)
    .attr("text-anchor", "end").attr("font-size", fontSize)
    .text(cfg.tag);
}

function addTitle(sel, label, sup) {
  if (!sup) { sel.text(label); return; }
  sel.append("tspan").text(label);
  sel.append("tspan").attr("font-size", 35).attr("dy", -19).text("2");
  sel.append("tspan").attr("dy", 19).text(")");
}

drawPanel({
  id: "f", tag: "(f)", left: 300,
  xLim: solarXLim, yLim: solarYLim,
  xTicks: solarTicks, yTicks: solarTicks,
  fmt: d3.format("d"),
  core: solarCore, fill: solarFill, scatter: solarScatter,
  xTitle: solarXTitle, yTitle: solarYTitle, sup: true
});

drawPanel({
  id: "g", tag: "(g)", left: 1834,
  xLim: windXLim, yLim: windYLim,
  xTicks: windXTicks, yTicks: windYTicks,
  fmt: d3.format(".1f"),
  core: windCore, fill: windFill, scatter: windScatter,
  xTitle: windXTitle, yTitle: windYTitle, sup: false
});
</script>
</body>
</html>
